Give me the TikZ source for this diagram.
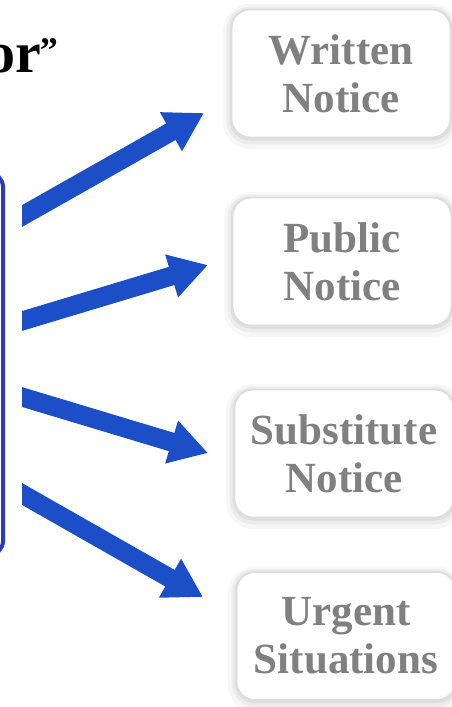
\documentclass[tikz,border=0pt]{standalone}
\usepackage{fontspec}
\setmainfont{Liberation Serif}
\usetikzlibrary{arrows.meta}
\definecolor{arrowblue}{RGB}{28,78,200}
\definecolor{frameblue}{RGB}{44,60,180}
\definecolor{txtgrey}{RGB}{128,128,128}
\definecolor{boxline}{RGB}{220,220,220}
\begin{document}
\begin{tikzpicture}[x=1pt,y=-1pt,
  notebox/.style={draw=boxline, line width=0.8pt, fill=white, rounded corners=18pt,
    minimum width=218pt, minimum height=127pt, inner sep=0pt, align=center,
    text=txtgrey, font=\fontsize{43}{48}\selectfont\bfseries,
    preaction={draw=black, opacity=0.03, line width=18pt, transform canvas={yshift=-3pt}},
    preaction={draw=black, opacity=0.045, line width=11pt, transform canvas={yshift=-2pt}},
    preaction={draw=black, opacity=0.06, line width=5pt, transform canvas={yshift=-1pt}}},
  bigarrow/.style={draw=arrowblue, line width=19pt, -{Triangle[length=38pt,width=42pt]}},
  srcframe/.style={draw=frameblue, line width=4pt, rounded corners=14pt, fill=white,
    minimum width=120pt, minimum height=382pt, inner sep=0pt},
  titletext/.style={anchor=base west, inner sep=0pt, text=black, font=\fontsize{58}{60}\selectfont\bfseries}]
\useasboundingbox (0,0) rectangle (452,707);
\clip (0,0) rectangle (452,707);
\fill[white] (0,0) rectangle (452,707);

\node[titletext] (title) at (-14,72) {or\kern-1pt\raisebox{10pt}{\fontsize{36}{36}\selectfont ”}};
\node[srcframe] (src) at (-57,364) {};

\node[notebox] (b1) at (341,73.5) {Written\\Notice};
\node[notebox] (b2) at (342,261.5) {Public\\Notice};
\node[notebox] (b3) at (344,453.5) {Substitute\\Notice};
\node[notebox] (b4) at (346,636) {Urgent\\Situations};

\coordinate (s1) at (12,221.7);
\coordinate (s2) at (12,324);
\coordinate (s3) at (12,394);
\coordinate (s4) at (12,488.3);
\coordinate (t1) at (204,113);
\coordinate (t2) at (208,265);
\coordinate (t3) at (208,453);
\coordinate (t4) at (203,597);

\begin{scope}
\clip (22,0) rectangle (452,707);
\draw[bigarrow] (s1) -- (t1);
\draw[bigarrow] (s2) -- (t2);
\draw[bigarrow] (s3) -- (t3);
\draw[bigarrow] (s4) -- (t4);
\end{scope}
\end{tikzpicture}
\end{document}
